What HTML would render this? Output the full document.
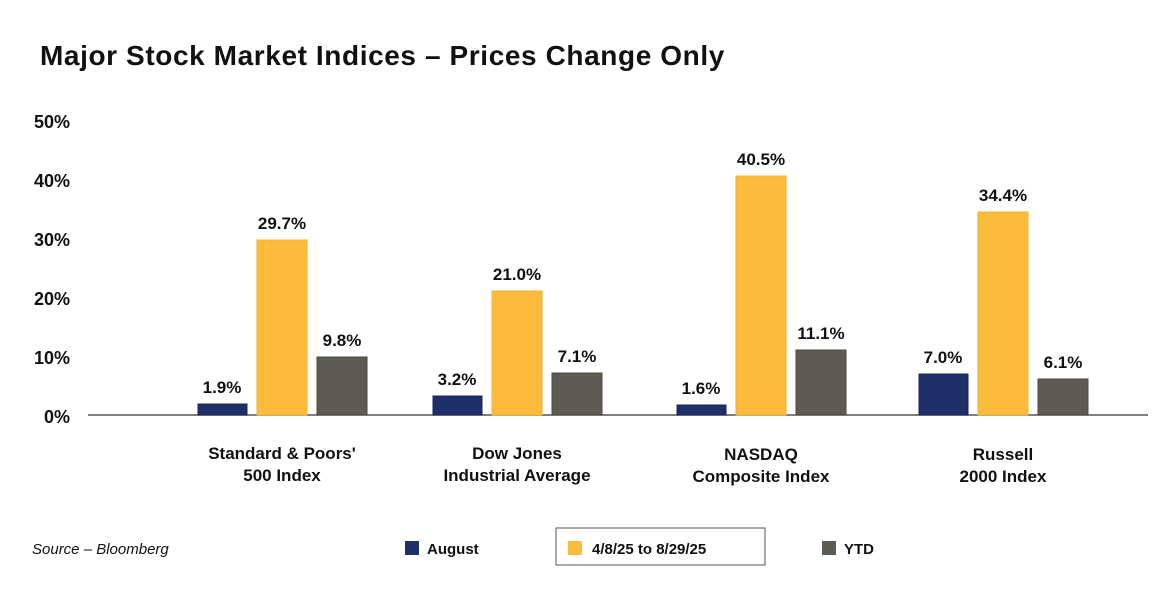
<!DOCTYPE html>
<html><head><meta charset="utf-8"><style>
html,body{margin:0;padding:0;background:#fff;}
svg{display:block;font-family:"Liberation Sans",sans-serif;}
</style></head><body>
<svg width="1174" height="600" viewBox="0 0 1174 600" xmlns="http://www.w3.org/2000/svg">
<text x="40" y="65" font-size="28" font-weight="bold" fill="#111" letter-spacing="0.6">Major Stock Market Indices – Prices Change Only</text>
<g font-size="18" font-weight="bold" fill="#111" text-anchor="end">
<text x="70" y="128">50%</text>
<text x="70" y="187">40%</text>
<text x="70" y="246">30%</text>
<text x="70" y="305">20%</text>
<text x="70" y="364">10%</text>
<text x="70" y="423">0%</text>
</g>
<line x1="88" y1="415" x2="1148" y2="415" stroke="#555" stroke-width="1.5"/>
<g stroke-width="1">
<rect x="198" y="404" width="49" height="11" fill="#1f3068" stroke="#17245a"/>
<rect x="257" y="240" width="50" height="175" fill="#fbbc3d" stroke="#f2b030"/>
<rect x="317" y="357" width="50" height="58" fill="#5e5b55" stroke="#4a4843"/>
<rect x="433" y="396" width="49" height="19" fill="#1f3068" stroke="#17245a"/>
<rect x="492" y="291" width="50" height="124" fill="#fbbc3d" stroke="#f2b030"/>
<rect x="552" y="373" width="50" height="42" fill="#5e5b55" stroke="#4a4843"/>
<rect x="677" y="405" width="49" height="10" fill="#1f3068" stroke="#17245a"/>
<rect x="736" y="176" width="50" height="239" fill="#fbbc3d" stroke="#f2b030"/>
<rect x="796" y="350" width="50" height="65" fill="#5e5b55" stroke="#4a4843"/>
<rect x="919" y="374" width="49" height="41" fill="#1f3068" stroke="#17245a"/>
<rect x="978" y="212" width="50" height="203" fill="#fbbc3d" stroke="#f2b030"/>
<rect x="1038" y="379" width="50" height="36" fill="#5e5b55" stroke="#4a4843"/>
</g>
<g font-size="17" font-weight="bold" fill="#111" text-anchor="middle">
<text x="222" y="393">1.9%</text>
<text x="282" y="229">29.7%</text>
<text x="342" y="346">9.8%</text>
<text x="457" y="385">3.2%</text>
<text x="517" y="280">21.0%</text>
<text x="577" y="362">7.1%</text>
<text x="701" y="394">1.6%</text>
<text x="761" y="165">40.5%</text>
<text x="821" y="339">11.1%</text>
<text x="943" y="363">7.0%</text>
<text x="1003" y="201">34.4%</text>
<text x="1063" y="368">6.1%</text>
</g>
<g font-size="17" font-weight="bold" fill="#111" text-anchor="middle">
<text x="282" y="459">Standard &amp; Poors'</text>
<text x="282" y="481">500 Index</text>
<text x="517" y="459">Dow Jones</text>
<text x="517" y="481">Industrial Average</text>
<text x="761" y="460">NASDAQ</text>
<text x="761" y="482">Composite Index</text>
<text x="1003" y="460">Russell</text>
<text x="1003" y="482">2000 Index</text>
</g>
<text x="32" y="554" font-size="15" font-style="italic" fill="#111">Source – Bloomberg</text>
<rect x="405" y="541" width="14" height="14" fill="#1f3068"/>
<text x="427" y="554" font-size="15" font-weight="bold" fill="#111">August</text>
<rect x="556" y="528" width="209" height="37" fill="#fff" stroke="#555" stroke-width="1"/>
<rect x="568" y="541" width="14" height="14" fill="#fbbc3d"/>
<text x="592" y="554" font-size="15" font-weight="bold" fill="#111">4/8/25 to 8/29/25</text>
<rect x="822" y="541" width="14" height="14" fill="#5e5b55"/>
<text x="844" y="554" font-size="15" font-weight="bold" fill="#111">YTD</text>
</svg>
</body></html>
